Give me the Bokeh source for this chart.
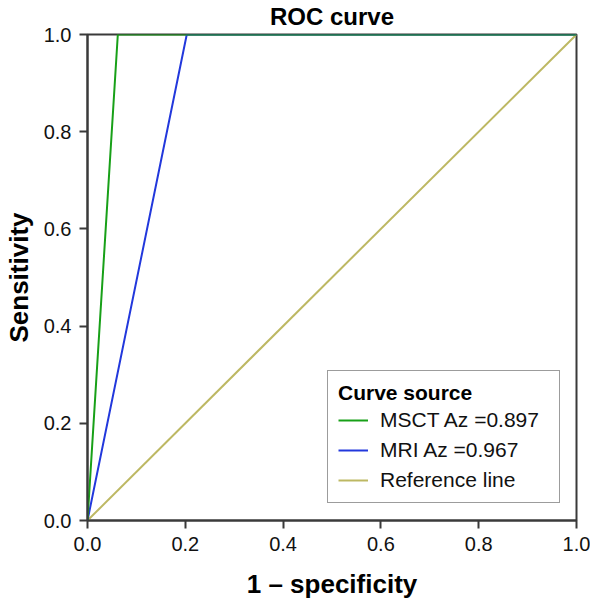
from bokeh.plotting import figure
from bokeh.models import Range1d, FixedTicker, Legend, LegendItem
from bokeh.embed import file_html
from bokeh.resources import INLINE

# Data
tick_values = [0.0, 0.2, 0.4, 0.6, 0.8, 1.0]
tick_labels = ["0.0", "0.2", "0.4", "0.6", "0.8", "1.0"]

msct_fpr = [0.0, 0.062, 1.0]
msct_tpr = [0.0, 1.0, 1.0]
mri_fpr = [0.0, 0.203, 1.0]
mri_tpr = [0.0, 1.0, 1.0]
ref_fpr = [0.0, 1.0]
ref_tpr = [0.0, 1.0]

series_names = ["MSCT Az =0.897", "MRI Az =0.967", "Reference line"]
series_colors = ["#18a018", "#2238dc", "#bdb863"]

FONT = "Liberation Sans"
AXC = "#3a3a3a"

p = figure(width=590, height=601, output_backend="svg", toolbar_location=None,
           x_range=Range1d(0, 1), y_range=Range1d(0, 1),
           min_border_left=87, min_border_right=14, min_border_top=33, min_border_bottom=81,
           title="ROC curve")

p.title.align = "center"
p.title.vertical_align = "top"
p.title.text_font = FONT
p.title.text_font_size = "24px"
p.title.text_font_style = "bold"
p.title.text_color = "black"
p.title.text_line_height = 0.9
p.title.standoff = 5

p.xgrid.visible = False
p.ygrid.visible = False
p.outline_line_color = AXC
p.outline_line_width = 2
p.background_fill_color = "white"
p.border_fill_color = "white"

for ax in (p.xaxis[0], p.yaxis[0]):
    ax.ticker = FixedTicker(ticks=tick_values)
    ax.major_label_overrides = {v: l for v, l in zip(tick_values, tick_labels)}
    ax.minor_tick_line_color = None
    ax.major_tick_in = 0
    ax.major_tick_out = 8
    ax.major_tick_line_color = AXC
    ax.major_tick_line_width = 2
    ax.axis_line_color = AXC
    ax.axis_line_width = 2
    ax.major_label_text_font = FONT
    ax.major_label_text_font_size = "20px"
    ax.major_label_text_color = "#111111"
    ax.axis_label_text_font = FONT
    ax.axis_label_text_font_size = "26px"
    ax.axis_label_text_font_style = "bold"
    ax.axis_label_text_color = "black"
    ax.axis_label_text_line_height = 0.9

p.xaxis[0].axis_label = "1 \u2013 specificity"
p.yaxis[0].axis_label = "Sensitivity"
p.xaxis[0].major_label_standoff = 8
p.xaxis[0].axis_label_standoff = 15
p.yaxis[0].major_label_standoff = 8
p.yaxis[0].axis_label_standoff = 7

r_ref = p.line(ref_fpr, ref_tpr, line_color=series_colors[2], line_width=2)
r_mri = p.line(mri_fpr, mri_tpr, line_color=series_colors[1], line_width=2)
r_msct = p.line(msct_fpr, msct_tpr, line_color=series_colors[0], line_width=2)

legend = Legend(items=[
    LegendItem(label=series_names[0], renderers=[r_msct]),
    LegendItem(label=series_names[1], renderers=[r_mri]),
    LegendItem(label=series_names[2], renderers=[r_ref]),
], location=(240, 17))
legend.title = "Curve source"
legend.title_text_font = FONT
legend.title_text_font_size = "21px"
legend.title_text_font_style = "bold"
legend.title_text_color = "black"
legend.title_standoff = 3
legend.label_text_font = FONT
legend.label_text_font_size = "21px"
legend.label_text_color = "#111111"
legend.glyph_width = 30
legend.glyph_height = 22
legend.label_height = 22
legend.label_width = 169
legend.label_standoff = 12
legend.spacing = 6
legend.padding = 10
legend.margin = 0
legend.border_line_color = AXC
legend.border_line_width = 1.5
legend.background_fill_color = "white"
legend.background_fill_alpha = 1
p.add_layout(legend, "center")

open("out.html", "w").write(file_html(p, INLINE))
